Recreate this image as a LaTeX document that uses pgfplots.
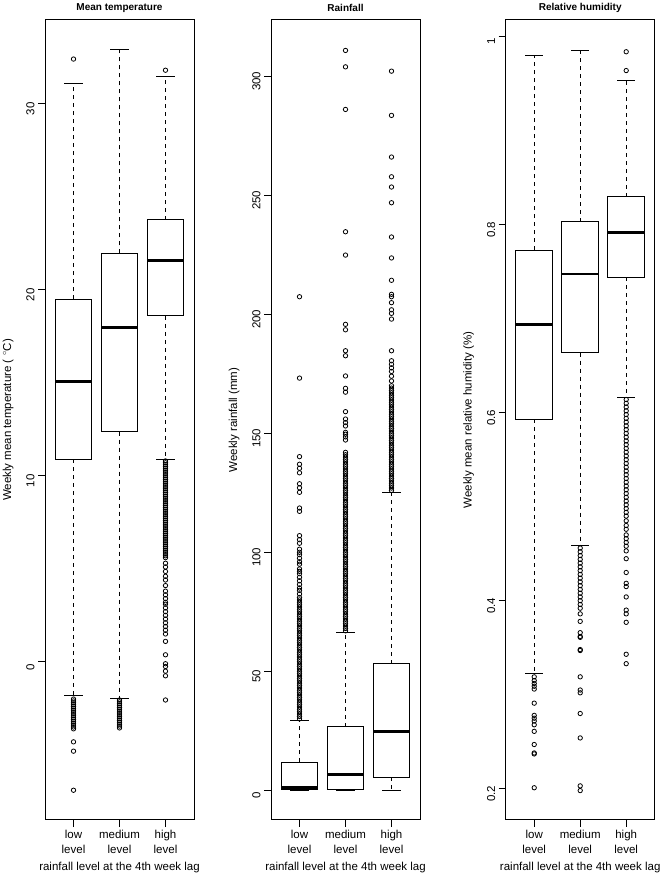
\documentclass[border=0pt]{standalone}
\usepackage{fontspec}
\setmainfont{Liberation Sans}
\usepackage{pgfplots}
\pgfplotsset{compat=1.18}
\usepgfplotslibrary{statistics}

\tikzset{
  rwhisk/.style={black, line width=0.8pt, dash pattern=on 4pt off 4pt},
  rcap/.style={black, line width=0.9pt, solid},
}
\pgfplotsset{
  boxplot/draw/lower whisker/.code={%
    \draw[rwhisk] (boxplot cs:\pgfplotsboxplotvalue{lower quartile}) -- (boxplot cs:\pgfplotsboxplotvalue{lower whisker});
    \draw[rcap] (boxplot whisker cs:\pgfplotsboxplotvalue{lower whisker},0) -- (boxplot whisker cs:\pgfplotsboxplotvalue{lower whisker},1);
  },
  boxplot/draw/upper whisker/.code={%
    \draw[rwhisk] (boxplot cs:\pgfplotsboxplotvalue{upper quartile}) -- (boxplot cs:\pgfplotsboxplotvalue{upper whisker});
    \draw[rcap] (boxplot whisker cs:\pgfplotsboxplotvalue{upper whisker},0) -- (boxplot whisker cs:\pgfplotsboxplotvalue{upper whisker},1);
  },
  rpanel/.style={
    scale only axis, width=149pt, height=800pt,
    xmin=0.38, xmax=3.62,
    xtick={1,2,3},
    xticklabels={{low\\level},{medium\\level},{high\\level}},
    xticklabel style={align=center, font=\fontsize{11.5}{14.3}\selectfont},
    xlabel={rainfall level at the 4th week lag},
    xlabel style={font=\fontsize{11.5}{14}\selectfont, yshift=-2pt},
    ylabel style={font=\fontsize{11.5}{14}\selectfont, at={(axis description cs:-0.248,0.5)}, anchor=center},
    yticklabel style={rotate=90, anchor=south, xshift=-5pt, font=\fontsize{11.5}{14}\selectfont},
    title style={font=\bfseries\fontsize{10}{12}\selectfont, at={(axis description cs:0.5,1)}, anchor=center, yshift=6pt},
    tick align=outside, xtick pos=bottom, ytick pos=left,
    major tick length=7pt,
    every tick/.style={black, line width=0.8pt},
    axis line style={line width=1pt},
    /pgf/number format/assume math mode=true,
    boxplot/draw direction=y,
    boxplot/box extend=0.8,
    boxplot/whisker extend=0.4,
    boxplot/every box/.style={line width=1pt},
    boxplot/every median/.style={line width=2.6pt},
  },
  rbox/.style={black, line width=1pt, mark=o, mark size=2.2pt, mark options={line width=0.8pt, solid}},
}

\begin{document}
\begin{tikzpicture}
\path[use as bounding box] (0,0) rectangle (662pt,874pt);

% Mean temperature
\begin{axis}[rpanel, at={(45pt,54pt)}, anchor=south west,
  ymin=-8.5, ymax=34.5, ytick={0,10,20,30},
  title={Mean temperature},
  ylabel={Weekly mean temperature ( $^\circ$C)}]
\addplot[rbox, boxplot prepared={draw position=1, lower whisker=-1.81, lower quartile=10.9,
  median=15.07, upper quartile=19.5, upper whisker=31.07}]
  table[row sep=\\, y index=0] {32.4\\ -2.0\\ -2.1\\ -2.2\\ -2.3\\ -2.4\\ -2.5\\ -2.6\\ -2.7\\ -2.8\\
  -2.9\\ -3.0\\ -3.1\\ -3.2\\ -3.3\\ -3.4\\ -3.5\\ -3.6\\ -4.3\\ -4.8\\ -6.9\\};
\addplot[rbox, boxplot prepared={draw position=2, lower whisker=-1.94, lower quartile=12.38,
  median=17.97, upper quartile=21.95, upper whisker=32.9}]
  table[row sep=\\, y index=0] {-2.05\\ -2.15\\ -2.25\\ -2.35\\ -2.45\\ -2.55\\ -2.65\\ -2.75\\
  -2.85\\ -2.95\\ -3.05\\ -3.15\\ -3.25\\ -3.35\\ -3.45\\ -3.55\\};
\addplot[rbox, boxplot prepared={draw position=3, lower whisker=10.9, lower quartile=18.6,
  median=21.57, upper quartile=23.75, upper whisker=31.47}]
  table[row sep=\\, y index=0] {31.8\\ 10.8\\ 10.7\\ 10.6\\ 10.5\\ 10.4\\ 10.3\\ 10.2\\ 10.1\\ 10.0\\
  9.9\\ 9.8\\ 9.7\\ 9.6\\ 9.5\\ 9.4\\ 9.3\\ 9.2\\ 9.1\\ 9.0\\ 8.9\\ 8.8\\ 8.7\\ 8.6\\ 8.5\\ 8.4\\
  8.3\\ 8.2\\ 8.1\\ 8.0\\ 7.9\\ 7.8\\ 7.7\\ 7.6\\ 7.5\\ 7.4\\ 7.3\\ 7.2\\ 7.1\\ 7.0\\ 6.9\\ 6.8\\
  6.7\\ 6.6\\ 6.5\\ 6.4\\ 6.3\\ 6.2\\ 6.1\\ 6.0\\ 5.9\\ 5.8\\ 5.7\\ 5.6\\ 5.3\\ 5.1\\ 4.86\\ 4.6\\
  4.4\\ 4.1\\ 3.8\\ 3.6\\ 3.4\\ 3.2\\ 3.1\\ 2.9\\ 2.7\\ 2.5\\ 2.3\\ 2.1\\ 1.9\\ 1.7\\ 1.5\\ 1.1\\
  0.38\\ -0.1\\ -0.25\\ -0.5\\ -0.75\\ -2.05\\};
\end{axis}

% Rainfall
\begin{axis}[rpanel, at={(271pt,54pt)}, anchor=south west,
  ymin=-12.5, ymax=323.7, ytick={0,50,100,150,200,250,300},
  title={Rainfall},
  ylabel={Weekly rainfall (mm)}]
\addplot[rbox, boxplot prepared={draw position=1, lower whisker=0, lower quartile=0.2,
  median=1.1, upper quartile=11.8, upper whisker=29.5}]
  table[row sep=\\, y index=0] {30\\ 31\\ 32\\ 33\\ 34\\ 35\\ 36\\ 37\\ 38\\ 39\\ 40\\ 41\\ 42\\ 43\\
  44\\ 45\\ 46\\ 47\\ 48\\ 49\\ 50\\ 51\\ 52\\ 53\\ 54\\ 55\\ 56\\ 57\\ 58\\ 59\\ 60\\ 61\\ 62\\ 63\\
  64\\ 65\\ 66\\ 67\\ 68\\ 69\\ 70\\ 71\\ 72\\ 73\\ 74\\ 75\\ 76\\ 77\\ 78\\ 79\\ 80\\ 81\\ 82.5\\
  84\\ 85\\ 86.5\\ 88\\ 89.5\\ 91\\ 92\\ 93\\ 95\\ 96\\ 97.5\\ 99\\ 100\\ 101.3\\ 103.8\\ 105.3\\
  107\\ 117.2\\ 118.6\\ 125.2\\ 127.1\\ 128.8\\ 133.4\\ 135.3\\ 137\\ 140.2\\ 173.2\\ 207.4\\};
\addplot[rbox, boxplot prepared={draw position=2, lower whisker=0, lower quartile=0.3,
  median=6.7, upper quartile=26.7, upper whisker=66.4}]
  table[row sep=\\, y index=0] {67\\ 68\\ 69\\ 70\\ 71\\ 72\\ 73\\ 74\\ 75\\ 76\\ 77\\ 78\\ 79\\ 80\\
  81\\ 82\\ 83\\ 84\\ 85\\ 86\\ 87\\ 88\\ 89\\ 90\\ 91\\ 92\\ 93\\ 94\\ 95\\ 96\\ 97\\ 98\\ 99\\ 100\\
  101\\ 102\\ 103\\ 104\\ 105\\ 106\\ 107\\ 108\\ 109\\ 110\\ 111\\ 112\\ 113\\ 114\\ 115\\ 116\\
  117\\ 118\\ 119\\ 120\\ 121\\ 122\\ 123\\ 124\\ 125\\ 126\\ 127\\ 128\\ 129\\ 130\\ 131\\ 132\\
  133\\ 134\\ 135\\ 136\\ 137\\ 138\\ 139\\ 140\\ 141\\ 142\\ 147.2\\ 148.5\\ 149.6\\ 150.4\\
  153.1\\ 154.5\\ 156\\ 159.1\\ 167.3\\ 168.9\\ 174.1\\ 182.6\\ 184.7\\ 193.5\\ 195.8\\ 224.9\\
  234.7\\ 286.1\\ 304\\ 310.9\\};
\addplot[rbox, boxplot prepared={draw position=3, lower whisker=0, lower quartile=5.5,
  median=24.6, upper quartile=53.2, upper whisker=125}]
  table[row sep=\\, y index=0] {126\\ 127\\ 128\\ 129\\ 130\\ 131\\ 132\\ 133\\ 134\\ 135\\ 136\\
  137\\ 138\\ 139\\ 140\\ 141\\ 142\\ 143\\ 144\\ 145\\ 146\\ 147\\ 148\\ 149\\ 150\\ 151\\ 152\\
  153\\ 154\\ 155\\ 156\\ 157\\ 158\\ 159\\ 160\\ 161\\ 162\\ 163\\ 164\\ 165\\ 166\\ 167\\ 168\\
  169\\ 170\\ 172\\ 174\\ 176\\ 177.5\\ 179\\ 180.5\\ 184.7\\ 198\\ 200.4\\ 201.9\\ 204.9\\ 207.4\\
  208.4\\ 214.3\\ 223.7\\ 232.5\\ 246.9\\ 253.5\\ 257.8\\ 266.1\\ 283.6\\ 302.2\\};
\end{axis}

% Relative humidity
\begin{axis}[rpanel, at={(505.7pt,54pt)}, anchor=south west,
  ymin=0.1667, ymax=1.0178, ytick={0.2,0.4,0.6,0.8,1},
  title={Relative humidity},
  ylabel={Weekly mean relative humidity (\%)}]
\addplot[rbox, boxplot prepared={draw position=1, lower whisker=0.3228, lower quartile=0.593,
  median=0.694, upper quartile=0.773, upper whisker=0.9798}]
  table[row sep=\\, y index=0] {0.319\\ 0.315\\ 0.312\\ 0.309\\ 0.306\\ 0.291\\ 0.278\\ 0.275\\
  0.272\\ 0.268\\ 0.261\\ 0.247\\ 0.238\\ 0.237\\ 0.201\\};
\addplot[rbox, boxplot prepared={draw position=2, lower whisker=0.4593, lower quartile=0.664,
  median=0.7476, upper quartile=0.803, upper whisker=0.9859}]
  table[row sep=\\, y index=0] {0.456\\ 0.452\\ 0.448\\ 0.444\\ 0.440\\ 0.436\\ 0.432\\ 0.428\\
  0.424\\ 0.420\\ 0.416\\ 0.412\\ 0.408\\ 0.404\\ 0.400\\ 0.396\\ 0.392\\ 0.386\\ 0.378\\ 0.366\\
  0.362\\ 0.361\\ 0.348\\ 0.347\\ 0.319\\ 0.305\\ 0.302\\ 0.280\\ 0.254\\ 0.203\\ 0.198\\};
\addplot[rbox, boxplot prepared={draw position=3, lower whisker=0.6167, lower quartile=0.744,
  median=0.7915, upper quartile=0.830, upper whisker=0.954}]
  table[row sep=\\, y index=0] {0.984\\ 0.964\\ 0.614\\ 0.610\\ 0.606\\ 0.602\\ 0.598\\ 0.594\\
  0.590\\ 0.586\\ 0.582\\ 0.578\\ 0.574\\ 0.570\\ 0.566\\ 0.562\\ 0.558\\ 0.554\\ 0.550\\ 0.546\\
  0.542\\ 0.538\\ 0.534\\ 0.530\\ 0.526\\ 0.522\\ 0.518\\ 0.514\\ 0.510\\ 0.506\\ 0.502\\ 0.498\\
  0.494\\ 0.490\\ 0.485\\ 0.480\\ 0.476\\ 0.470\\ 0.466\\ 0.462\\ 0.458\\ 0.453\\ 0.4447\\ 0.430\\
  0.4185\\ 0.415\\ 0.404\\ 0.390\\ 0.386\\ 0.377\\ 0.343\\ 0.333\\};
\end{axis}
\end{tikzpicture}
\end{document}
